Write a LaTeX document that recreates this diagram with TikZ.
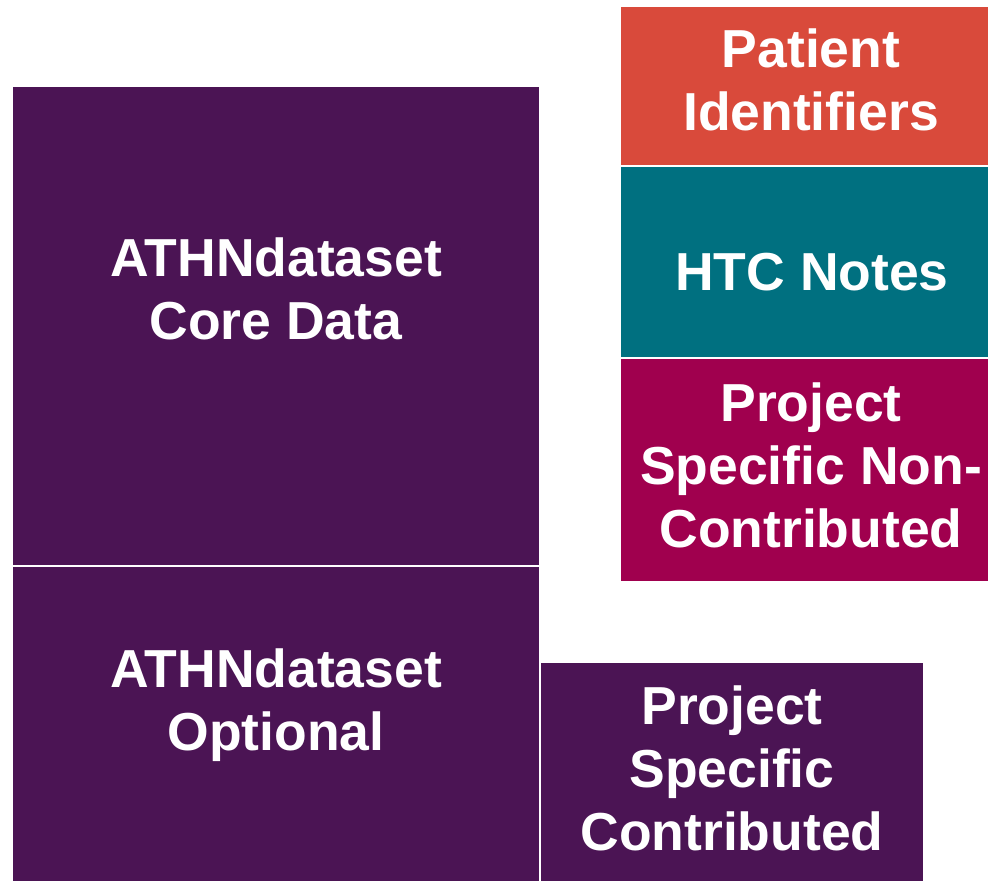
\documentclass[tikz,border=0pt]{standalone}
\usepackage{fontspec}
\setmainfont{Liberation Sans}
\definecolor{cpurple}{RGB}{75,20,84}
\definecolor{cred}{RGB}{217,74,59}
\definecolor{cteal}{RGB}{0,112,128}
\definecolor{cmag}{RGB}{160,0,78}
\begin{document}
\begin{tikzpicture}[x=1pt,y=-1pt,
  box/.style={inner sep=0pt,outer sep=0pt},
  lbl/.style={text=white,align=center,inner sep=0pt,font=\fontsize{53.5}{63}\selectfont\bfseries}]
\useasboundingbox (0,0) rectangle (988,881);
\fill[cpurple] (13,87) rectangle (539,565);
\fill[cpurple] (13,567) rectangle (539,881);
\fill[cpurple] (541,663) rectangle (923,881);
\fill[cred] (621,7) rectangle (988,165);
\fill[cteal] (621,167) rectangle (988,357);
\fill[cmag] (621,359) rectangle (988,581);
\node[lbl] (core) at (276,289) {ATHNdataset\\Core Data};
\node[lbl] (opt) at (276,705) {ATHNdataset\\Optional};
\node[lbl] (psc) at (732,768) {Project\\Specific\\Contributed};
\node[lbl] (pid) at (811,80) {Patient\\Identifiers};
\node[lbl] (htc) at (812,272) {HTC Notes};
\node[lbl] (psnc) at (811,465) {Project\\Specific Non-\\Contributed};
\end{tikzpicture}
\end{document}
